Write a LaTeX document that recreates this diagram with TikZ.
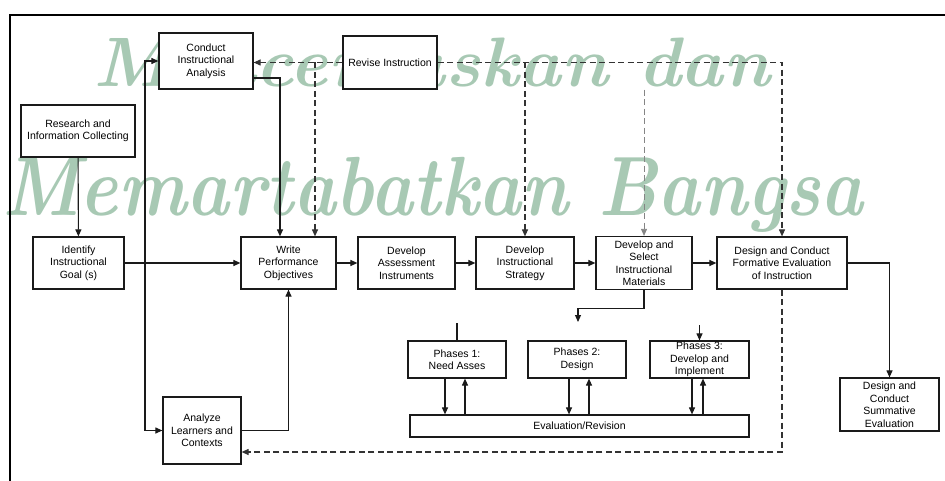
\documentclass[tikz,border=0pt]{standalone}
\usepackage{fontspec}
\newfontfamily\diagfont{Liberation Sans}
\usepackage{xcolor}
\usetikzlibrary{arrows.meta,positioning,calc}
\definecolor{ink}{HTML}{1A1A1A}
\definecolor{fb}{HTML}{333333}
\definecolor{wm}{HTML}{A8C9B4}
\tikzset{
  blk/.style={draw=ink, line width=1.2pt, fill=white, align=center,
              inner sep=1pt, font=\diagfont\fontsize{10.5}{12.5}\selectfont},
  sz/.style 2 args={minimum width=#1pt, minimum height=#2pt},
  ar/.style={-{Triangle[length=7pt,width=6pt]}, line width=1.1pt, draw=ink},
  dar/.style={ar, draw=fb, dash pattern=on 6pt off 3.5pt},
  ln/.style={line width=1.1pt, draw=ink},
  wmark/.style={text=wm, anchor=base west, inner sep=0pt},
}
\begin{document}
\begin{tikzpicture}[x=1pt, y=-1pt]
  \useasboundingbox (0,0) rectangle (945,481);
  % watermark (under the boxes)
  \node[wmark, font=\bfseries\itshape\fontsize{70}{70}\selectfont, xscale=1.03] (wm1) at (93,87) {Mencerdaskan dan};
  \node[wmark, font=\bfseries\itshape\fontsize{84}{84}\selectfont, xscale=0.86] (wm2) at (2,215) {Memartabatkan Bangsa};

  % frame
  \draw[line width=2.4pt] (945,15) -- (10,15) -- (10,481);

  % top row
  \node[blk, sz={94}{56}] (analysis) at (206,61) {Conduct\\Instructional\\Analysis};
  \node[blk, sz={94}{53}] (revise) at (390,62.5) {Revise Instruction};
  \node[blk, sz={114}{52}] (research) at (78,131) {Research and\\Information Collecting};

  % main row
  \node[blk, sz={91}{52}] (goal) at (78.5,263) {Identify\\Instructional\\Goal (s)};
  \node[blk, sz={95}{52}] (objectives) at (288.5,263) {Write\\Performance\\Objectives};
  \node[blk, sz={97}{52}] (assess) at (406.5,263) {Develop\\Assessment\\Instruments};
  \node[blk, sz={98}{52}] (strategy) at (525,263) {Develop\\Instructional\\Strategy};
  \node[blk, sz={96}{53}] (materials) at (644,263) {Develop and\\Select\\Instructional\\Materials};
  \node[blk, sz={130}{52}] (formative) at (782,263) {Design and Conduct\\Formative Evaluation\\of Instruction};
  \node[blk, sz={99}{53}] (summative) at (889.5,404.5) {Design and\\Conduct\\Summative\\Evaluation};
  \node[blk, sz={78}{67}] (learners) at (202,430.5) {Analyze\\Learners and\\Contexts};

  % phases
  \node[blk, sz={98}{37}] (ph1) at (457,359.5) {Phases 1:\\Need Asses};
  \node[blk, sz={98}{37}] (ph2) at (577,359.5) {Phases 2:\\Design};
  \node[blk, sz={99}{37}] (ph3) at (699.5,359.5) {Phases 3:\\Develop and\\Implement};
  \node[blk, sz={339}{22}] (evalrev) at (579.5,426) {Evaluation/Revision};

  % solid flow
  \coordinate (jn) at (145,263);
  \draw[ar] (research) -- (goal);
  \draw[ar] (goal) -- (objectives);
  \draw[ar] (jn) |- (analysis.west);
  \draw[ar] (jn) |- (learners.west);
  \draw[ar] ([yshift=-17pt]analysis.east) -| ([xshift=-8.5pt]objectives.north);
  \draw[ar] (learners.east) -| (objectives.south);
  \draw[ar] (objectives) -- (assess);
  \draw[ar] (assess) -- (strategy);
  \draw[ar] (strategy) -- (materials);
  \draw[ar] (materials) -- (formative);
  \draw[ar] (formative.east) -| (summative.north);

  % into the phases
  \coordinate (matend) at (578,322);
  \coordinate (ph1top) at (457,323);
  \coordinate (ph3in) at (699.5,325);
  \draw[ar] (materials.south) -- ++(0,18) -| (matend);
  \draw[ln] (ph1top) -- (ph1.north);
  \draw[ar] (ph3in) -- (ph3.north);
  \foreach \p/\dn/\up in {ph1/-12/8, ph2/-8/12, ph3/-7.5/3.5} {
    \draw[ar] ([xshift=\dn pt]\p.south) -- ([xshift=\dn pt]\p.south |- evalrev.north);
    \draw[ar] ([xshift=\up pt]\p.south |- evalrev.north) -- ([xshift=\up pt]\p.south);
  }

  % revision loop
  \draw[dar] (revise.west) -- (analysis.east |- revise.west);
  \draw[dar] (revise.east) -| (formative.north);
  \draw[dar] ([xshift=26.5pt]objectives.north |- revise.west) -- ([xshift=26.5pt]objectives.north);
  \draw[dar] (strategy.north |- revise.west) -- (strategy.north);
  \draw[dar, draw=fb!60, line width=0.8pt] (materials.north |- analysis.south) -- (materials.north);
  \draw[dar] (formative.south) |- ([yshift=-21.5pt]learners.east);
\end{tikzpicture}
\end{document}
